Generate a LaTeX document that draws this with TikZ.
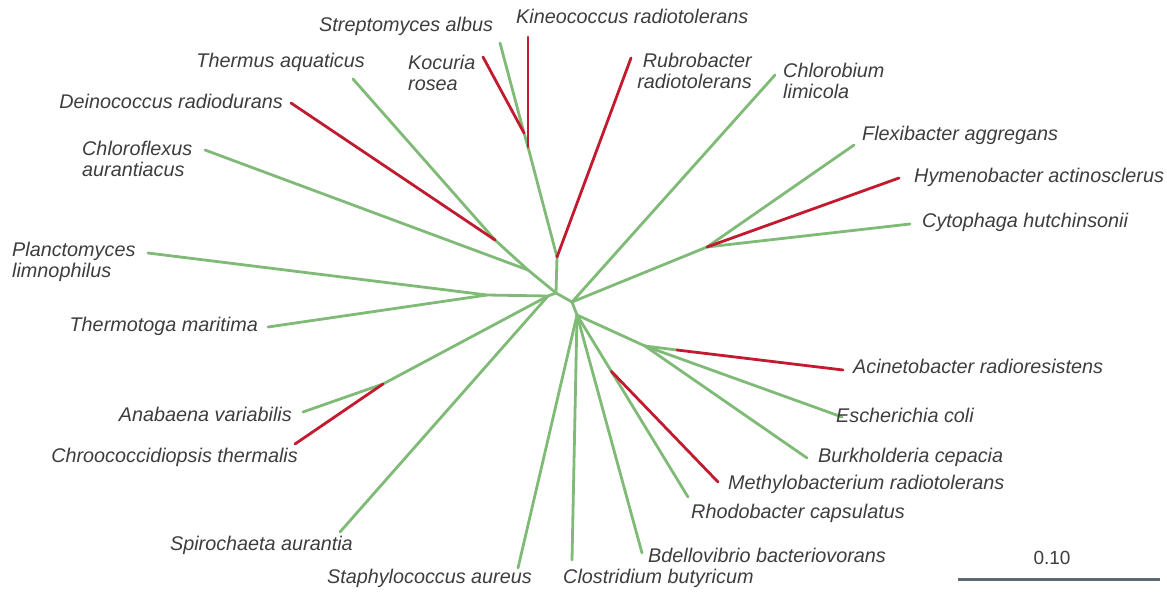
\documentclass[tikz,border=0pt]{standalone}
\usepackage{fontspec}
\setmainfont{Liberation Sans}
\usetikzlibrary{calc}
\definecolor{tg}{HTML}{7FBA76}
\definecolor{tr}{HTML}{C21A2F}
\definecolor{tx}{HTML}{3D3D3D}
\definecolor{sb}{HTML}{5E6870}
\tikzset{
  gbr/.style={draw=tg, line width=2.8pt, line cap=round, line join=round},
  rbr/.style={draw=tr, line width=2.8pt, line cap=round},
  lab/.style={text=tx, font=\fontsize{19.8}{21.5}\selectfont\itshape, inner sep=0pt},
  labs/.style={lab, yshift=-1.5pt},
  scl/.style={text=tx, font=\fontsize{19}{21}\selectfont, inner sep=0pt},
}
\begin{document}
\begin{tikzpicture}[x=1pt,y=-1pt]
\useasboundingbox (0,0) rectangle (1167,592);
% internal nodes
\coordinate (A) at (556,293);
\coordinate (B) at (557,257);
\coordinate (C1) at (528,147);
\coordinate (C2) at (524,133);
\coordinate (D) at (528,270);
\coordinate (E) at (495,240);
\coordinate (G) at (548,296);
\coordinate (F) at (487,295);
\coordinate (H) at (383,384);
\coordinate (I) at (572,302);
\coordinate (J) at (707,247);
\coordinate (K) at (577,315);
\coordinate (M) at (645,346);
\coordinate (N) at (677,350);
% tips
\coordinate (tKin) at (528,37);
\coordinate (tStr) at (500,43);
\coordinate (tKoc) at (483,57);
\coordinate (tRub) at (631,58);
\coordinate (tThe) at (353,79);
\coordinate (tDei) at (291,103);
\coordinate (tChf) at (205,150);
\coordinate (tPla) at (148,253);
\coordinate (tTmo) at (268,327);
\coordinate (tAna) at (303,412);
\coordinate (tChr) at (295,444);
\coordinate (tSpi) at (340,532);
\coordinate (tSta) at (518,568);
\coordinate (tClo) at (572,560);
\coordinate (tBde) at (642,553);
\coordinate (tRho) at (688,497);
\coordinate (L) at ($(K)!0.31!(tRho)$);
\coordinate (tMet) at (718,482);
\coordinate (tBur) at (807,458);
\coordinate (tEsc) at (842,417);
\coordinate (tAci) at (843,370);
\coordinate (tChb) at (775,75);
\coordinate (tFle) at (854,145);
\coordinate (tHym) at (899,178);
\coordinate (tCyt) at (910,224);
\coordinate (s1) at (958,579);
\coordinate (s2) at (1160,579);
% green branches
\draw[gbr] (A) -- (B) -- (C1) -- (C2) -- (tStr);
\draw[gbr] (A) -- (D) -- (E) -- (tThe);
\draw[gbr] (D) -- (tChf);
\draw[gbr] (A) -- (G) -- (F) -- (tPla);
\draw[gbr] (F) -- (tTmo);
\draw[gbr] (G) -- (H) -- (tAna);
\draw[gbr] (G) -- (tSpi);
\draw[gbr] (A) -- (I) -- (tChb);
\draw[gbr] (I) -- (J) -- (tFle);
\draw[gbr] (J) -- (tCyt);
\draw[gbr] (I) -- (K) -- (tSta);
\draw[gbr] (K) -- (tClo);
\draw[gbr] (K) -- (tBde);
\draw[gbr] (K) -- (L) -- (tRho);
\draw[gbr] (K) -- (M) -- (tBur);
\draw[gbr] (M) -- (tEsc);
\draw[gbr] (M) -- (N);
% red branches
\draw[rbr] (B) -- (tRub);
\draw[rbr] (C1) -- (tKin);
\draw[rbr] (C2) -- (tKoc);
\draw[rbr] (E) -- (tDei);
\draw[rbr] (H) -- (tChr);
\draw[rbr] (L) -- (tMet);
\draw[rbr] (N) -- (tAci);
\draw[rbr] (J) -- (tHym);
% labels
\node[labs, anchor=mid west] (lKin) at (516,19) {Kineococcus radiotolerans};
\node[labs, anchor=mid west] (lStr) at (319,27) {Streptomyces albus};
\node[lab, anchor=west, align=left] (lKoc) at (408,73) {Kocuria\\rosea};
\node[lab, anchor=east, align=right] (lRub) at (752,71) {Rubrobacter\\radiotolerans};
\node[labs, anchor=mid east] (lThe) at (365,63) {Thermus aquaticus};
\node[lab, anchor=west, align=left] (lChb) at (783,81) {Chlorobium\\limicola};
\node[labs, anchor=mid east] (lDei) at (283,104) {Deinococcus radiodurans};
\node[lab, anchor=west, align=left] (lChf) at (82,159) {Chloroflexus\\aurantiacus};
\node[labs, anchor=mid west] (lFle) at (862,136) {Flexibacter aggregans};
\node[labs, anchor=mid west] (lHym) at (914,178) {Hymenobacter actinosclerus};
\node[labs, anchor=mid west] (lCyt) at (922,223) {Cytophaga hutchinsonii};
\node[lab, anchor=west, align=left] (lPla) at (12,262) {Planctomyces\\limnophilus};
\node[labs, anchor=mid east] (lTmo) at (258,327) {Thermotoga maritima};
\node[labs, anchor=mid west] (lAci) at (853,369) {Acinetobacter radioresistens};
\node[labs, anchor=mid west] (lEsc) at (836,418) {Escherichia coli};
\node[labs, anchor=mid east] (lAna) at (292,417) {Anabaena variabilis};
\node[labs, anchor=mid east] (lChr) at (298,458) {Chroococcidiopsis thermalis};
\node[labs, anchor=mid west] (lBur) at (818,458) {Burkholderia cepacia};
\node[labs, anchor=mid west] (lMet) at (728,485) {Methylobacterium radiotolerans};
\node[labs, anchor=mid west] (lRho) at (691,514) {Rhodobacter capsulatus};
\node[labs, anchor=mid east] (lSpi) at (353,546) {Spirochaeta aurantia};
\node[labs, anchor=mid west] (lBde) at (648,558) {Bdellovibrio bacteriovorans};
\node[labs, anchor=mid east] (lSta) at (532,579) {Staphylococcus aureus};
\node[labs, anchor=mid west] (lClo) at (563,579) {Clostridium butyricum};
% scale bar
\draw[draw=sb, line width=3pt] (s1) -- (s2);
\node[scl, anchor=center] (lScale) at (1052,558) {0.10};
\end{tikzpicture}
\end{document}
